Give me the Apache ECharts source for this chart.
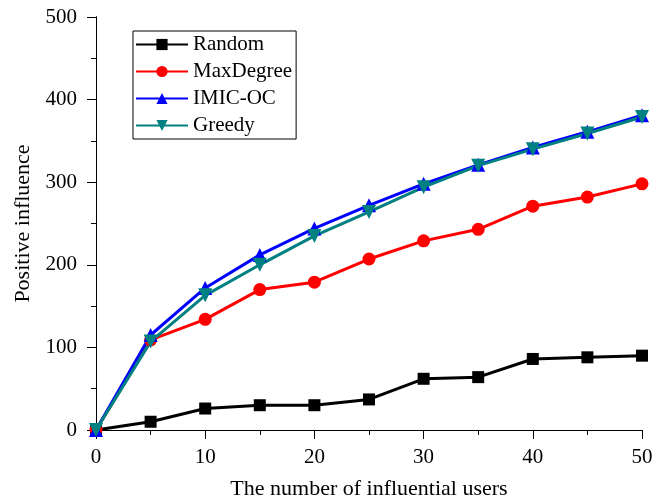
<!DOCTYPE html>
<html>
<head>
<meta charset="utf-8">
<script src="https://cdn.jsdelivr.net/npm/echarts@6/dist/echarts.min.js"></script>
<style>
  html, body { margin: 0; padding: 0; background: #fff; }
  #chart { width: 654px; height: 502px; }
</style>
</head>
<body>
<div id="chart"></div>
<script>
// number of influential users
const users = [0, 5, 10, 15, 20, 25, 30, 35, 40, 45, 50];
// positive influence per method
const random = [0, 10, 26, 30, 30, 37, 62, 64, 86, 88, 90];
const maxDegree = [0, 109, 134, 170, 179, 207, 229, 243, 271, 282, 298];
const imicOc = [0, 115, 172, 212, 244, 272, 298, 321, 342, 361, 381];
const greedy = [0, 107, 163, 200, 235, 264, 294, 320, 340, 359, 379];

const pairs = (ys) => users.map((x, i) => [x, ys[i]]);
const font = 'Liberation Serif';

let myChart = echarts.init(document.getElementById('chart'));

const frameAxis = {
    axisLine: { show: true, lineStyle: { color: '#000', width: 1 } },
    axisTick: { show: true, inside: true, length: 5, lineStyle: { color: '#000' } },
    axisLabel: { show: false },
    splitLine: { show: false },
};

myChart.setOption({
    animation: false,
    grid: { left: 96, right: 12, top: 17, bottom: 72, outerBoundsMode: 'none' },
    legend: {
        orient: 'vertical',
        left: 133,
        top: 31,
        itemWidth: 52,
        itemHeight: 14,
        itemGap: 6,
        padding: [3, 4, 3, 2],
        borderColor: '#000',
        borderWidth: 1,
        textStyle: { fontFamily: font, fontSize: 21, color: '#000' },
        data: ['Random', 'MaxDegree', 'IMIC-OC', 'Greedy'],
    },
    xAxis: [
        {
            type: 'value',
            min: 0,
            max: 50,
            interval: 10,
            name: 'The number of influential users',
            nameLocation: 'middle',
            nameGap: 48,
            nameTextStyle: { fontFamily: font, fontSize: 22, color: '#000' },
            axisLine: { onZero: false, lineStyle: { color: '#000', width: 1 } },
            axisTick: { length: 9, lineStyle: { color: '#000' } },
            minorTick: { show: true, splitNumber: 2, length: 5, lineStyle: { color: '#000' } },
            axisLabel: { margin: 17, fontFamily: font, fontSize: 21, color: '#000' },
            splitLine: { show: false },
        },
        Object.assign({ type: 'value', position: 'top', min: 0, max: 50, interval: 5 }, frameAxis),
    ],
    yAxis: [
        {
            type: 'value',
            min: 0,
            max: 500,
            interval: 100,
            name: 'Positive influence',
            nameLocation: 'middle',
            nameGap: 62,
            nameTextStyle: { fontFamily: font, fontSize: 22, color: '#000' },
            axisLine: { show: true, onZero: false, lineStyle: { color: '#000', width: 1 } },
            axisTick: { show: true, length: 9, lineStyle: { color: '#000' } },
            minorTick: { show: true, splitNumber: 2, length: 5, lineStyle: { color: '#000' } },
            axisLabel: { margin: 19, fontFamily: font, fontSize: 21, color: '#000' },
            splitLine: { show: false },
        },
        Object.assign({ type: 'value', position: 'right', min: 0, max: 500, interval: 50 }, frameAxis),
    ],
    series: [
        {
            name: 'Random',
            type: 'line',
            data: pairs(random),
            symbol: 'rect',
            symbolSize: 12,
            lineStyle: { color: '#000', width: 3 },
            itemStyle: { color: '#000' },
        },
        {
            name: 'MaxDegree',
            type: 'line',
            data: pairs(maxDegree),
            symbol: 'circle',
            symbolSize: 13,
            lineStyle: { color: '#ff0000', width: 3 },
            itemStyle: { color: '#ff0000' },
        },
        {
            name: 'IMIC-OC',
            type: 'line',
            data: pairs(imicOc),
            symbol: 'triangle',
            symbolSize: 14,
            lineStyle: { color: '#0000ff', width: 3 },
            itemStyle: { color: '#0000ff' },
        },
        {
            name: 'Greedy',
            type: 'line',
            data: pairs(greedy),
            symbol: 'triangle',
            symbolRotate: 180,
            symbolSize: 14,
            lineStyle: { color: '#008080', width: 3 },
            itemStyle: { color: '#008080' },
        },
    ],
});
</script>
</body>
</html>
